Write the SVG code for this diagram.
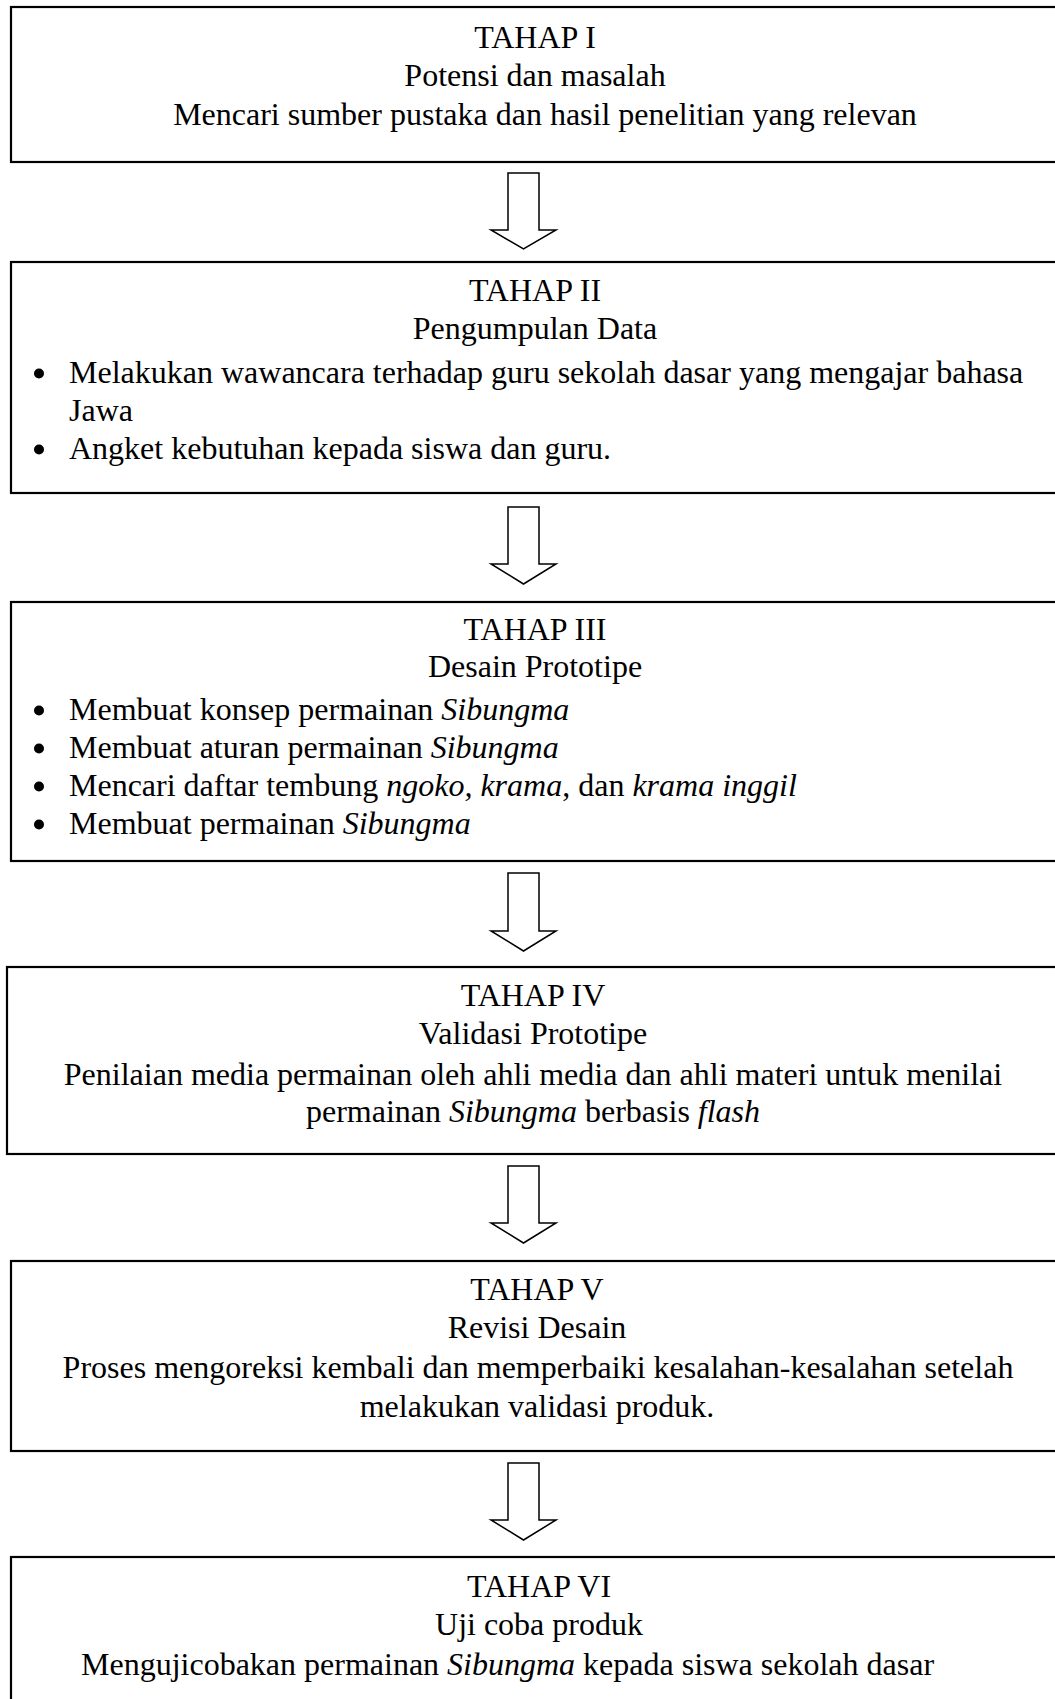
<svg xmlns="http://www.w3.org/2000/svg" width="1055" height="1699" viewBox="0 0 1055 1699">
<style>
.box{fill:#fff;stroke:#000;stroke-width:2.2}
.arrow{fill:#fff;stroke:#000;stroke-width:1.5;stroke-linejoin:miter}
text{font-family:"Liberation Serif","Times New Roman",serif;font-size:32px;fill:#000}
.c{text-anchor:middle}
.i{font-style:italic}
.dot{fill:#000}
</style>
<rect x="0" y="0" width="1055" height="1699" fill="#fff"/>
<g id="connectors">
<path class="arrow" d="M508,173 L539,173 L539,230 L556,230 L523.5,249 L491,230 L508,230 Z"/>
<path class="arrow" d="M508,507 L539,507 L539,564 L556,564 L523.5,584 L491,564 L508,564 Z"/>
<path class="arrow" d="M508,873 L539,873 L539,931 L556,931 L523.5,951 L491,931 L508,931 Z"/>
<path class="arrow" d="M508,1166 L539,1166 L539,1223 L556,1223 L523.5,1243 L491,1223 L508,1223 Z"/>
<path class="arrow" d="M508,1463 L539,1463 L539,1520 L556,1520 L523.5,1540 L491,1520 L508,1520 Z"/>
</g>
<g id="tahap1">
<rect class="box" x="11" y="7" width="1060" height="155"/>
<text class="c" x="535" y="48">TAHAP I</text>
<text class="c" x="535" y="86">Potensi dan masalah</text>
<text class="c" x="545" y="125">Mencari sumber pustaka dan hasil penelitian yang relevan</text>
</g>
<g id="tahap2">
<rect class="box" x="11" y="262" width="1060" height="231"/>
<text class="c" x="535" y="301">TAHAP II</text>
<text class="c" x="535" y="339">Pengumpulan Data</text>
<circle class="dot" cx="39" cy="373.5" r="5"/>
<text x="69" y="383">Melakukan wawancara terhadap guru sekolah dasar yang mengajar bahasa</text>
<text x="69" y="421">Jawa</text>
<circle class="dot" cx="39" cy="449.5" r="5"/>
<text x="69" y="459">Angket kebutuhan kepada siswa dan guru.</text>
</g>
<g id="tahap3">
<rect class="box" x="11" y="602" width="1060" height="259"/>
<text class="c" x="535" y="640">TAHAP III</text>
<text class="c" x="535" y="677">Desain Prototipe</text>
<circle class="dot" cx="39" cy="710.5" r="5"/>
<text x="69" y="720">Membuat konsep permainan <tspan class="i">Sibungma</tspan></text>
<circle class="dot" cx="39" cy="748.5" r="5"/>
<text x="69" y="758">Membuat aturan permainan <tspan class="i">Sibungma</tspan></text>
<circle class="dot" cx="39" cy="786.5" r="5"/>
<text x="69" y="796">Mencari daftar tembung <tspan class="i">ngoko, krama</tspan>, dan <tspan class="i">krama inggil</tspan></text>
<circle class="dot" cx="39" cy="824.5" r="5"/>
<text x="69" y="834">Membuat permainan <tspan class="i">Sibungma</tspan></text>
</g>
<g id="tahap4">
<rect class="box" x="7" y="967" width="1064" height="187"/>
<text class="c" x="533" y="1006">TAHAP IV</text>
<text class="c" x="533" y="1044">Validasi Prototipe</text>
<text class="c" x="533" y="1085">Penilaian media permainan oleh ahli media dan ahli materi untuk menilai</text>
<text class="c" x="533" y="1122">permainan <tspan class="i">Sibungma</tspan> berbasis <tspan class="i">flash</tspan></text>
</g>
<g id="tahap5">
<rect class="box" x="11" y="1261" width="1060" height="190"/>
<text class="c" x="537" y="1300">TAHAP V</text>
<text class="c" x="537" y="1338">Revisi Desain</text>
<text class="c" x="538" y="1378">Proses mengoreksi kembali dan memperbaiki kesalahan-kesalahan setelah</text>
<text class="c" x="537" y="1417">melakukan validasi produk.</text>
</g>
<g id="tahap6">
<rect class="box" x="11" y="1557" width="1060" height="160"/>
<text class="c" x="539" y="1597">TAHAP VI</text>
<text class="c" x="539" y="1635">Uji coba produk</text>
<text x="81" y="1675">Mengujicobakan permainan <tspan class="i">Sibungma</tspan> kepada siswa sekolah dasar</text>
</g>
</svg>
